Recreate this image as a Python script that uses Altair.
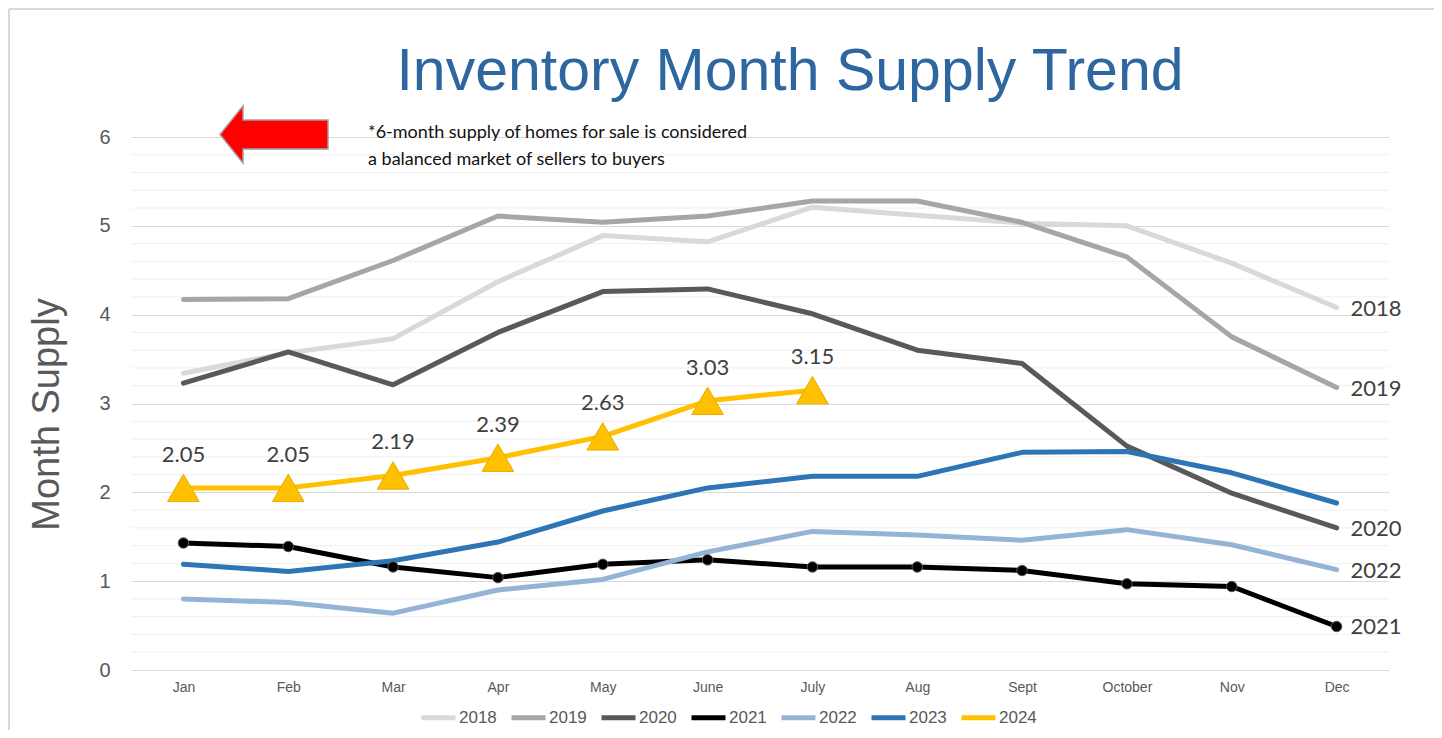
import altair as alt
import pandas as pd

months = ["Jan", "Feb", "Mar", "Apr", "May", "June", "July", "Aug", "Sept", "October", "Nov", "Dec"]
years = ["2018", "2019", "2020", "2021", "2022", "2023", "2024"]

v2018 = [3.34, 3.57, 3.73, 4.37, 4.89, 4.82, 5.21, 5.12, 5.03, 5.00, 4.58, 4.08]
v2019 = [4.17, 4.18, 4.61, 5.11, 5.04, 5.11, 5.28, 5.28, 5.04, 4.65, 3.75, 3.18]
v2020 = [3.23, 3.58, 3.21, 3.80, 4.26, 4.29, 4.01, 3.60, 3.45, 2.52, 1.99, 1.60]
v2021 = [1.43, 1.39, 1.16, 1.04, 1.19, 1.24, 1.16, 1.16, 1.12, 0.97, 0.94, 0.49]
v2022 = [0.80, 0.76, 0.64, 0.90, 1.02, 1.33, 1.56, 1.52, 1.46, 1.58, 1.41, 1.13]
v2023 = [1.19, 1.11, 1.23, 1.44, 1.79, 2.05, 2.18, 2.18, 2.45, 2.46, 2.22, 1.88]
v2024 = [2.05, 2.05, 2.19, 2.39, 2.63, 3.03, 3.15]

series = [v2018, v2019, v2020, v2021, v2022, v2023, v2024]
colors = ["#d9d9d9", "#a6a6a6", "#595959", "#000000", "#95b3d7", "#2e75b6", "#ffc000"]
widths = [5, 5, 4.5, 5, 7, 6.5, 6.5]
end_label_years = ["2018", "2019", "2020", "2021", "2022"]

major_ticks = [0, 1, 2, 3, 4, 5, 6]
minor_ticks = [round(i * 0.2, 1) for i in range(31) if i % 5 != 0]

title_text = "Inventory Month Supply Trend"
note_lines = ["*6-month supply of homes for sale is considered",
              "a balanced market of sellers to buyers"]

rows = []
for yr, vals in zip(years, series):
    for m, v in zip(months, vals):
        rows.append({"year": yr, "month": m, "value": v})
df = pd.DataFrame(rows)
df24 = df[df.year == "2024"]
df21 = df[df.year == "2021"]
dfend = df[(df.month == "Dec") & (df.year.isin(end_label_years))]
dfminor = pd.DataFrame({"value": minor_ticks})
one = pd.DataFrame({"a": [0]})

W, H = 1258, 533
PL, PT, PR, PB = 123, 129, 45, 60

x_enc = alt.X("month:N", sort=months, title=None,
              scale=alt.Scale(type="point", padding=0.5),
              axis=alt.Axis(ticks=False, domain=False, grid=False, labelAngle=0,
                            labelFont="Liberation Sans", labelFontSize=14,
                            labelColor="#595959", labelPadding=10))
y_scale = alt.Scale(domain=[0, 6], nice=False, zero=True)
y_axis = alt.Axis(values=major_ticks, format="d", ticks=False, domain=False,
                  grid=True, gridColor="#d9d9d9", gridWidth=1,
                  labelOverlap=False,
                  labelFont="Liberation Sans", labelFontSize=20,
                  labelColor="#595959", labelPadding=21,
                  titleFont="Liberation Sans", titleFontSize=38,
                  titleFontWeight="normal", titleColor="#595959",
                  titleX=-84, titleY=277, titleAngle=-90,
                  titleAlign="center", titleBaseline="middle")
y_enc = alt.Y("value:Q", title="Month Supply", scale=y_scale, axis=y_axis)

color_enc = alt.Color("year:N", scale=alt.Scale(domain=years, range=colors),
                      legend=alt.Legend(orient="none", legendX=288, legendY=561,
                                        direction="horizontal", title=None,
                                        symbolType="stroke", symbolStrokeWidth=6,
                                        symbolSize=1156, labelFont="Liberation Sans",
                                        labelFontSize=17, labelColor="#595959",
                                        labelOffset=1, columnPadding=4, padding=0))

minor = alt.Chart(dfminor).mark_rule(color="#efefef", strokeWidth=1).encode(y=y_enc)

lines = alt.Chart(df).mark_line(strokeCap="round", strokeJoin="round").encode(
    x=x_enc, y=y_enc, color=color_enc,
    strokeWidth=alt.StrokeWidth("year:O", scale=alt.Scale(domain=years, range=widths), legend=None),
)

pts21 = alt.Chart(df21).mark_circle(size=110, color="#000000", opacity=1,
                                    stroke="#595959", strokeWidth=1).encode(
    x=alt.X("month:N", sort=months), y="value:Q")

tri24 = alt.Chart(df24).mark_point(shape="triangle-up", filled=True, size=1000,
                                   color="#ffc000", opacity=1,
                                   stroke="#e6ac00", strokeWidth=1).encode(
    x=alt.X("month:N", sort=months), y="value:Q")

lab24 = alt.Chart(df24).mark_text(dy=-33, font="Lato", fontSize=22, color="#404040").encode(
    x=alt.X("month:N", sort=months), y="value:Q", text=alt.Text("value:Q", format=".2f"))

endlab = alt.Chart(dfend).mark_text(align="left", baseline="middle", dx=14, dy=1,
                                    font="Lato", fontSize=22, color="#404040").encode(
    x=alt.X("month:N", sort=months), y="value:Q", text="year:N")

title = alt.Chart(one).mark_text(text=title_text, font="Liberation Sans", fontSize=59,
                                 color="#2e67a0", align="center", baseline="alphabetic").encode(
    x=alt.value(659), y=alt.value(-47))

note = alt.Chart(one).mark_text(text=note_lines, font="Lato", fontSize=18, color="#111111",
                                align="left", baseline="middle", lineHeight=27).encode(
    x=alt.value(237), y=alt.value(-4))

arrow_path = "M -1 0 L -0.574 -0.53 L -0.574 -0.27 L 1 -0.27 L 1 0.27 L -0.574 0.27 L -0.574 0.53 Z"
arrow = alt.Chart(one).mark_point(shape=arrow_path, filled=True, size=11664, color="#ff0000",
                                  opacity=1, stroke="#a0a0a0", strokeWidth=1.5).encode(
    x=alt.value(143), y=alt.value(-2.5))

border_top = alt.Chart(one).mark_rule(color="#d9d9d9", strokeWidth=2).encode(
    x=alt.value(-122), x2=alt.value(W + PR), y=alt.value(-PT + 1))
border_left = alt.Chart(one).mark_rule(color="#d9d9d9", strokeWidth=2).encode(
    x=alt.value(-PL + 1), y=alt.value(-PT + 1), y2=alt.value(H + PB))

chart = alt.layer(border_top, border_left, minor, lines, pts21, tri24, lab24, endlab,
                  title, note, arrow).properties(
    width=W, height=H,
    autosize=alt.AutoSizeParams(type="none"),
    padding={"left": PL, "top": PT, "right": PR, "bottom": PB},
    background="white",
).configure_view(strokeOpacity=0, strokeWidth=0)

chart.save("out.html", embed_options={"renderer": "svg", "actions": False})
